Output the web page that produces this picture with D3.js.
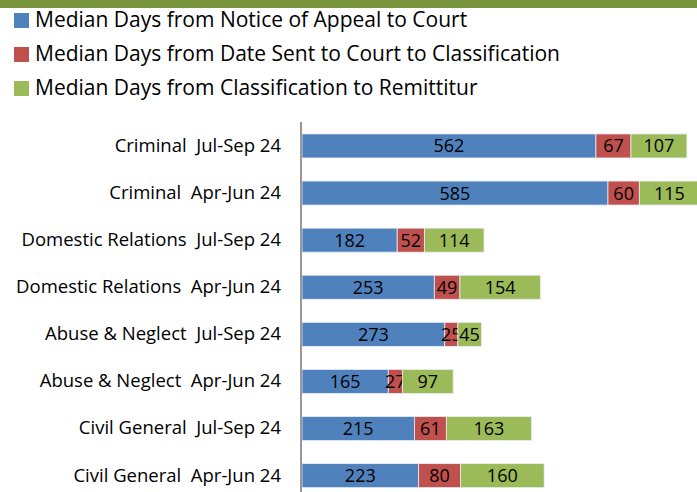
<!DOCTYPE html>
<html>
<head>
<meta charset="utf-8">
<style>
  body { margin: 0; background: #fff; }
  svg text { font-family: "Open Sans", sans-serif; fill: #000; white-space: pre; font-variant-ligatures: none; }
</style>
</head>
<body>
<script src="https://cdn.jsdelivr.net/npm/d3@7"></script>
<script>
// chart data
var categories = ["Criminal  Jul-Sep 24", "Criminal  Apr-Jun 24",
                  "Domestic Relations  Jul-Sep 24", "Domestic Relations  Apr-Jun 24",
                  "Abuse & Neglect  Jul-Sep 24", "Abuse & Neglect  Apr-Jun 24",
                  "Civil General  Jul-Sep 24", "Civil General  Apr-Jun 24"];
var seriesNames = ["Median Days from Notice of Appeal to Court",
                   "Median Days from Date Sent to Court to Classification",
                   "Median Days from Classification to Remittitur"];
var noticeToCourt = [562, 585, 182, 253, 273, 165, 215, 223];
var sentToClassification = [67, 60, 52, 49, 25, 27, 61, 80];
var classificationToRemittitur = [107, 115, 114, 154, 45, 97, 163, 160];
var colors = ["#4F81BD", "#C0504D", "#9BBB59"];

var width = 697, height = 492;
var svg = d3.select("body").append("svg")
    .attr("width", width)
    .attr("height", height);

// green rule across the top
svg.append("rect")
    .attr("x", 0).attr("y", 0)
    .attr("width", width).attr("height", 8)
    .attr("fill", "#77933C");

// legend
var legend = svg.selectAll(".legend")
    .data(seriesNames)
    .enter().append("g")
    .attr("transform", function(d, i) { return "translate(14," + (20 + i * 34) + ")"; });
legend.append("rect")
    .attr("x", 0).attr("y", -7)
    .attr("width", 15).attr("height", 15)
    .attr("fill", function(d, i) { return colors[i]; });
legend.append("text")
    .attr("x", 21).attr("y", 0)
    .attr("dy", "0.35em")
    .style("font-size", "21px")
    .text(function(d) { return d; });

// stacked data
var rows = categories.map(function(c, i) {
  return {cat: c, a: noticeToCourt[i], b: sentToClassification[i], c: classificationToRemittitur[i]};
});
var stack = d3.stack().keys(["a", "b", "c"])(rows);

var x = d3.scaleLinear().domain([0, 800]).range([302, 302 + 800 * 0.523]);
var y = d3.scaleBand().domain(categories).range([122.4, 499.2]).paddingInner(0.49).paddingOuter(0.245);

var layers = svg.selectAll(".layer")
    .data(stack)
    .enter().append("g")
    .attr("fill", function(d, i) { return colors[i]; });

layers.selectAll("rect")
    .data(function(d) { return d; })
    .enter().append("rect")
    .attr("x", function(d) { return x(d[0]); })
    .attr("y", function(d) { return y(d.data.cat); })
    .attr("width", function(d) { return x(d[1]) - x(d[0]); })
    .attr("height", y.bandwidth())
    .attr("stroke", "#e8eef5")
    .attr("stroke-width", 0.8);

layers.selectAll("text")
    .data(function(d) { return d; })
    .enter().append("text")
    .attr("x", function(d) { return (x(d[0]) + x(d[1])) / 2; })
    .attr("y", function(d) { return y(d.data.cat) + y.bandwidth() / 2; })
    .attr("dy", "0.36em")
    .attr("text-anchor", "middle")
    .style("font-size", "18px")
    .text(function(d) { return d[1] - d[0]; });

// category axis
var axis = svg.append("g")
    .attr("transform", "translate(301,0)")
    .call(d3.axisLeft(y).tickSize(0).tickPadding(20));
axis.select(".domain")
    .attr("stroke", "#989898")
    .attr("stroke-width", 2)
    .attr("d", "M0,122V" + height);
axis.selectAll("text")
    .style("font-size", "18.5px")
    .style("font-family", "'Open Sans', sans-serif");
</script>
</body>
</html>
